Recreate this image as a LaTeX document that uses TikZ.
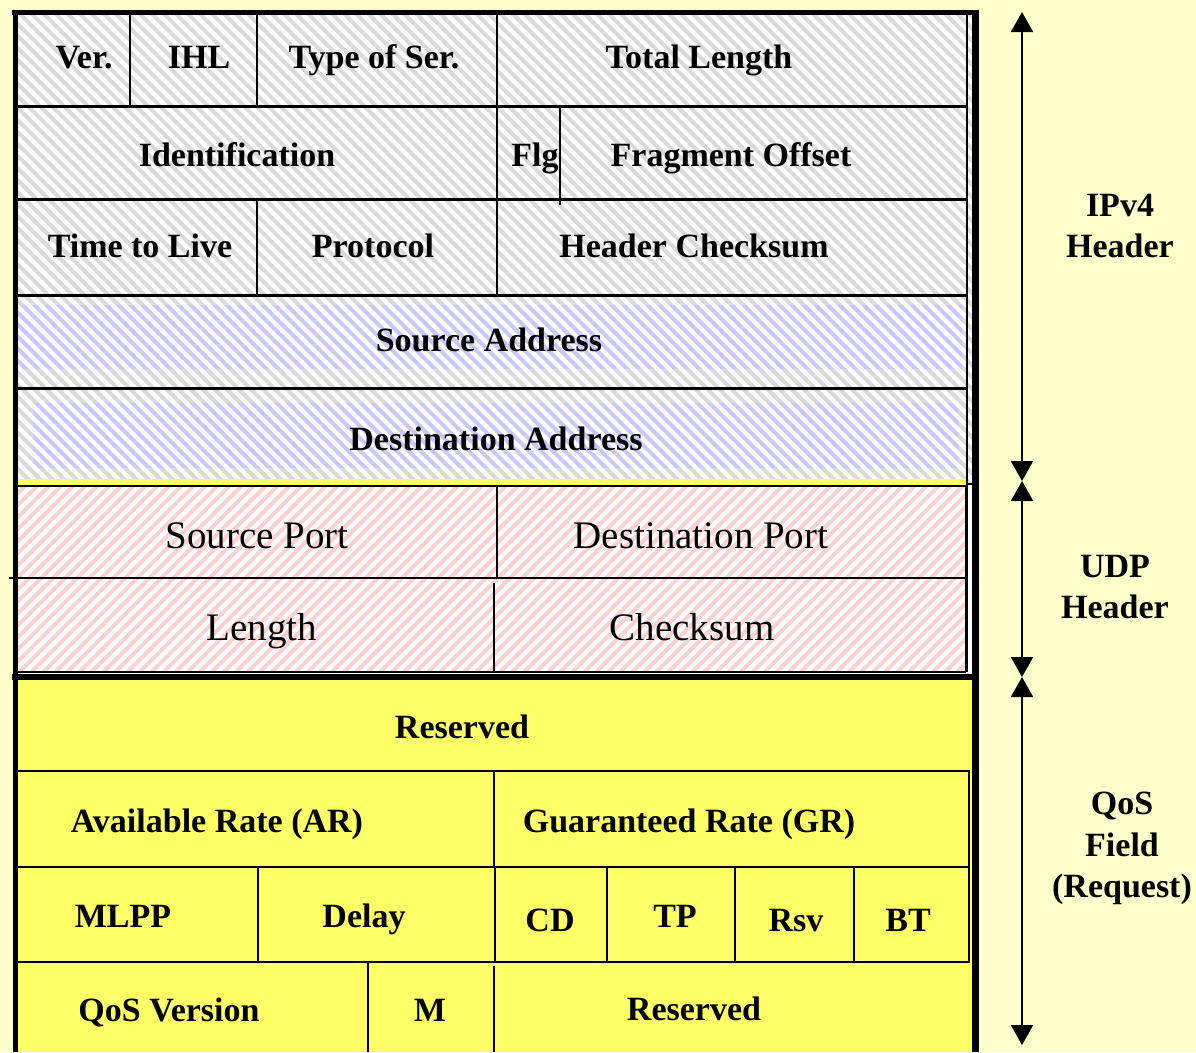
\documentclass[tikz,border=0pt]{standalone}
\usepackage{fontspec}
\setmainfont{Liberation Serif}
\usetikzlibrary{patterns.meta,arrows.meta}
\definecolor{pagebg}{HTML}{FFFFCC}
\definecolor{qosyellow}{HTML}{FFFF66}
\definecolor{graystripe}{HTML}{D9D9D9}
\definecolor{bluestripe}{HTML}{C8C8FF}
\definecolor{pinkstripe}{HTML}{FFD0D0}
\tikzset{
  lbl/.style={anchor=base, inner sep=0pt, font=\bfseries\fontsize{34}{40}\selectfont},
  udplbl/.style={anchor=base, inner sep=0pt, font=\fontsize{39}{45}\selectfont},
  sidelbl/.style={anchor=base, inner sep=0pt, font=\bfseries\fontsize{34}{40}\selectfont},
  rowline/.style={line width=3pt, black},
  colline/.style={line width=2pt, black},
  qline/.style={line width=2pt, black},
  thickb/.style={line width=6pt, black},
  span/.style={line width=2pt, {Triangle[length=20pt,width=22pt]}-{Triangle[length=20pt,width=22pt]}}
}
\begin{document}
\begin{tikzpicture}[x=1pt,y=-1pt]
\useasboundingbox (0,0) rectangle (1196,1052);
\fill[pagebg] (0,0) rectangle (1196,1052);
% upper (IPv4) region
\fill[white] (14,12) rectangle (972,676);
\fill[pattern={Lines[angle=-45,distance=8.5pt,line width=4pt]},pattern color=graystripe] (14,12) rectangle (972,484);
% address insets
\fill[white] (18,305) rectangle (962,368);
\fill[pattern={Lines[angle=-45,distance=8.5pt,line width=4pt]},pattern color=bluestripe] (18,305) rectangle (962,368);
\fill[white] (33,403) rectangle (958,467);
\fill[pattern={Lines[angle=-45,distance=8.5pt,line width=4pt]},pattern color=bluestripe] (33,403) rectangle (958,467);
\fill[qosyellow] (18,479) rectangle (966,485);
% UDP region
\fill[pattern={Lines[angle=45,distance=8.5pt,line width=4pt]},pattern color=pinkstripe] (16,486) rectangle (966,672);
% QoS region
\fill[qosyellow] (14,677) rectangle (972,1052);

% IPv4 lines
\draw[rowline] (16,106) -- (968,106);
\draw[rowline] (16,199) -- (968,199);
\draw[rowline] (16,295) -- (968,295);
\draw[rowline] (16,388) -- (968,388);
\draw[colline] (966,484) -- (972,484);
\draw[colline] (130,12) -- (130,106);
\draw[colline] (257,12) -- (257,106);
\draw[colline] (497,12) -- (497,106);
\draw[colline] (497,106) -- (497,199);
\draw[colline] (560,106) -- (560,205);
\draw[colline] (257,199) -- (257,295);
\draw[colline] (497,199) -- (497,295);
\draw[colline] (967,12) -- (967,672);
% UDP lines
\draw[colline] (16,486) -- (966,486);
\draw[colline] (9,578) -- (966,578);
\draw[colline] (16,672) -- (966,672);
\draw[colline] (497,486) -- (497,578);
\draw[colline] (494,583) -- (494,672);
\draw[colline] (966,486) -- (966,672);
% QoS lines
\draw[qline] (16,771) -- (970,771);
\draw[qline] (16,867) -- (970,867);
\draw[qline] (16,962) -- (970,962);
\draw[qline] (494,771) -- (494,867);
\draw[qline] (969,771) -- (969,962);
\draw[qline] (258,867) -- (258,962);
\draw[qline] (495,867) -- (495,962);
\draw[qline] (607,867) -- (607,962);
\draw[qline] (735,867) -- (735,962);
\draw[qline] (854,867) -- (854,962);
\draw[qline] (368,962) -- (368,1052);
\draw[qline] (494,966) -- (494,1052);
% outer thick borders
\draw[line width=5pt] (12,12) -- (978,12);
\draw[line width=5pt] (15,10) -- (15,1052);
\draw[line width=7pt] (975,10) -- (975,1052);
\draw[thickb] (12,677) -- (975,677);

% labels IPv4
\node[lbl] (ver) at (84,68) {Ver.};
\node[lbl] (ihl) at (199,68) {IHL};
\node[lbl] (tos) at (374,68) {Type of Ser.};
\node[lbl] (tlen) at (699,68) {Total Length};
\node[lbl] (ident) at (237,166) {Identification};
\node[lbl] (flg) at (535,166) {Flg};
\node[lbl] (fragoff) at (731,166) {Fragment Offset};
\node[lbl] (ttl) at (140,257) {Time to Live};
\node[lbl] (proto) at (373,257) {Protocol};
\node[lbl] (hcs) at (694,257) {Header Checksum};
\node[lbl] (srcaddr) at (489,351) {Source Address};
\node[lbl] (dstaddr) at (496,450) {Destination Address};
% UDP
\node[udplbl] (srcport) at (257,548) {Source Port};
\node[udplbl] (dstport) at (701,548) {Destination Port};
\node[udplbl] (ulen) at (262,640) {Length};
\node[udplbl] (ucs) at (692,640) {Checksum};
% QoS
\node[lbl] (res1) at (462,738) {Reserved};
\node[lbl] (ar) at (217,832) {Available Rate (AR)};
\node[lbl] (gr) at (689,832) {Guaranteed Rate (GR)};
\node[lbl] (mlpp) at (123,927) {MLPP};
\node[lbl] (delay) at (364,927) {Delay};
\node[lbl] (cd) at (550,931) {CD};
\node[lbl] (tp) at (675,927) {TP};
\node[lbl] (rsv) at (796,931) {Rsv};
\node[lbl] (bt) at (908,931) {BT};
\node[lbl] (qver) at (169,1021) {QoS Version};
\node[lbl] (m) at (430,1021) {M};
\node[lbl] (res2) at (694,1020) {Reserved};

% side spans
\coordinate (a0) at (1022,12);
\coordinate (a1) at (1022,481);
\coordinate (a2) at (1022,677);
\coordinate (a3) at (1022,1045);
\draw[span] (a0) -- (a1);
\draw[span] (a1) -- (a2);
\draw[span] (a2) -- (a3);
\node[sidelbl] (ipv4a) at (1120,216) {IPv4};
\node[sidelbl] (ipv4b) at (1120,257) {Header};
\node[sidelbl] (udpa) at (1115,577) {UDP};
\node[sidelbl] (udpb) at (1115,618) {Header};
\node[sidelbl] (qosa) at (1122,814) {QoS};
\node[sidelbl] (qosb) at (1122,856) {Field};
\node[sidelbl] (qosc) at (1122,897) {(Request)};
\end{tikzpicture}
\end{document}
